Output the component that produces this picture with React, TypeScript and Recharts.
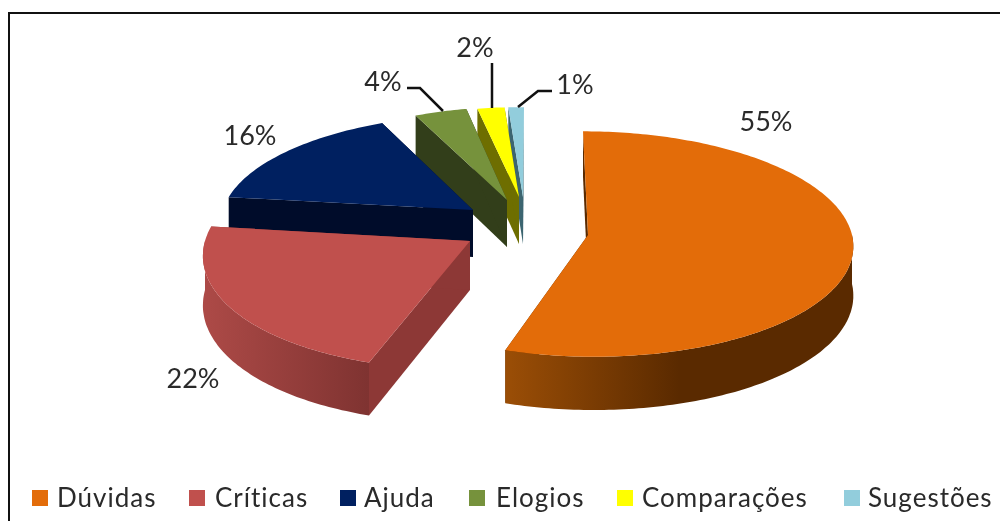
import React from 'react';
import { PieChart, Pie, Legend } from 'recharts';

// back-to-front drawing order, the legend flips it again
const categories = ['Sugestões', 'Comparações', 'Elogios', 'Ajuda', 'Críticas', 'Dúvidas'];
const values = [1, 2, 4, 16, 22, 55];
const topColors = ['#92cddc', '#ffff00', '#76923c', '#002060', '#c0504d', '#e36c09'];
const cutColors = ['#3c6570', '#6e6e00', '#323e1a', '#000c2a', '#8d3836', '#5a2a00'];
const wallFrom = ['#6fa0ad', '#8a8a00', '#55692b', '#001a4d', '#ad4a47', '#9b4e06'];
const wallTo = ['#3c6570', '#6e6e00', '#323e1a', '#000c2a', '#7f3331', '#5a2a00'];

// exploded slice geometry on screen: apex, radii, perspective skew, thickness
const apexX = [523, 519, 507, 473, 470, 588];
const apexY = [197, 197, 200, 210, 241, 235];
const radiusX = [270, 235, 228, 250, 265, 264];
const radiusY = [97, 97, 100, 103, 118, 112];
const skewX = [-14, 11, 13, -123, -150, 68];
const thickness = [47, 47, 47, 47, 49, 49];

// label centres and leader lines
const labelX = [575, 475, 383, 250, 193, 766];
const labelY = [83, 46, 80, 134, 377, 120];
const leaders = ['552,91 538,91 518,107', '492,63 492,108', '407,88 420,88 443,111', '', '', ''];
const legendIconX = [844, 617, 469, 340, 189, 32];
const legendTextX = [868, 642, 496, 364, 215, 57];

const PERSPECTIVE = 0.08;

const data = categories.map((name, i) => ({ name, value: values[i], fill: topColors[i] }));

function project(i: number, thetaDeg: number) {
    const t = (thetaDeg * Math.PI) / 180;
    const u = Math.sin(t);
    const v = -Math.cos(t);
    const s = 1 / (1 - PERSPECTIVE * v);
    return {
        x: apexX[i] + radiusX[i] * u * s + skewX[i] * (s - 1),
        y: apexY[i] + radiusY[i] * v * s,
        s,
    };
}

const toPath = (pts: { x: number; y: number }[]) =>
    'M' + pts.map((p) => `${p.x.toFixed(1)},${p.y.toFixed(1)}`).join('L') + 'Z';

const Slice3D = (props: any) => {
    const i = categories.indexOf(props.name);
    // recharts angles run counter-clockwise from the top here
    const from = 90 - props.endAngle;
    const to = 90 - props.startAngle;
    const apex = { x: apexX[i], y: apexY[i] };
    const down = (p: { x: number; y: number; s?: number }) => ({ x: p.x, y: p.y + thickness[i] * (p.s ?? 1) });

    const arc = [];
    for (let a = from; a < to; a += 1) arc.push(project(i, a));
    arc.push(project(i, to));

    // outer wall only where it faces the viewer
    const wall = [];
    for (let a = from; a <= to; a += 1) {
        const norm = ((a % 360) + 360) % 360;
        if (norm >= 90 && norm <= 270) wall.push(project(i, a));
    }
    const first = arc[0];
    const last = arc[arc.length - 1];
    const gradId = `wall-${i}`;

    return (
        <g>
            <defs>
                <linearGradient id={gradId} x1="0" y1="0" x2="1" y2="0">
                    <stop offset="0%" stopColor={wallFrom[i]} />
                    <stop offset={i === 5 ? '50%' : '100%'} stopColor={wallTo[i]} />
                    <stop offset="100%" stopColor={wallTo[i]} />
                </linearGradient>
            </defs>
            <path d={toPath([apex, first, down(first), down(apex)])} fill={cutColors[i]} />
            <path d={toPath([apex, last, down(last), down(apex)])} fill={cutColors[i]} />
            {wall.length > 1 && (
                <path d={toPath([...wall, ...wall.slice().reverse().map(down)])} fill={`url(#${gradId})`} />
            )}
            <path d={toPath([apex, ...arc])} fill={topColors[i]} />
        </g>
    );
};

const SliceLabel = (props: any) => {
    const i = categories.indexOf(props.name);
    return (
        <g>
            {leaders[i] && <polyline points={leaders[i]} fill="none" stroke="#111" strokeWidth={2.5} />}
            <text
                x={labelX[i]}
                y={labelY[i]}
                textAnchor="middle"
                dominantBaseline="central"
                fontFamily="Lato"
                fontSize={27}
                fill="#2a2a2a"
            >
                {`${props.value}%`}
            </text>
        </g>
    );
};

const LegendRow = () => (
    <div style={{ position: 'relative', width: 1000, height: 40 }}>
        {categories.map((name, i) => (
            <React.Fragment key={name}>
                <span
                    style={{
                        position: 'absolute',
                        left: legendIconX[i],
                        top: 8,
                        width: 16,
                        height: 16,
                        background: topColors[i],
                    }}
                />
                <span
                    style={{
                        position: 'absolute',
                        left: legendTextX[i],
                        top: -1,
                        fontFamily: 'Lato',
                        fontSize: 26,
                        letterSpacing: 1,
                        lineHeight: '32px',
                        color: '#2a2a2a',
                        whiteSpace: 'nowrap',
                    }}
                >
                    {name}
                </span>
            </React.Fragment>
        ))}
    </div>
);

export default function App() {
    return (
        <div style={{ position: 'absolute', left: 0, top: 0, width: 1000, height: 521, overflow: 'hidden', background: '#fff', filter: 'blur(0.7px)' }}>
            <div
                style={{
                    position: 'absolute',
                    left: 8,
                    top: 12,
                    width: 992,
                    height: 509,
                    borderTop: '2px solid #111',
                    borderLeft: '2px solid #111',
                }}
            />
            <PieChart width={1000} height={521} margin={{ top: 0, right: 0, bottom: 0, left: 0 }}>
                <Pie
                    data={data}
                    dataKey="value"
                    nameKey="name"
                    cx={585}
                    cy={245}
                    outerRadius={110}
                    startAngle={90}
                    endAngle={450}
                    stroke="none"
                    shape={Slice3D}
                    label={SliceLabel}
                    labelLine={false}
                    isAnimationActive={false}
                />
                <Legend
                    content={LegendRow}
                    wrapperStyle={{ position: 'absolute', left: 0, top: 482, width: 1000, height: 39 }}
                />
            </PieChart>
        </div>
    );
}
